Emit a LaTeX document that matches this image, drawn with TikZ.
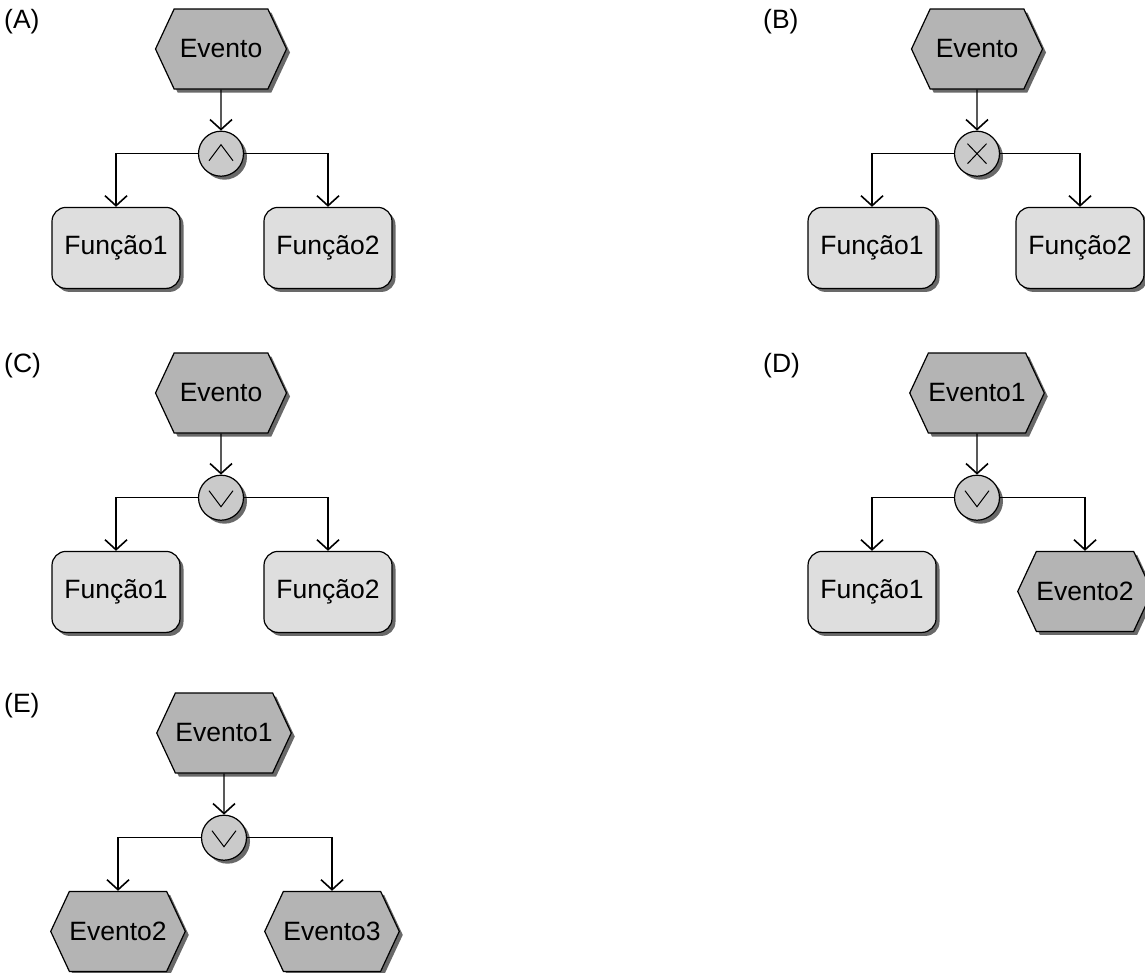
\documentclass[tikz,border=0pt]{standalone}
\usepackage{fontspec}
\setmainfont{Liberation Sans}
\usetikzlibrary{positioning}
\usetikzlibrary{shapes.symbols,shadows,arrows.meta}

\definecolor{cinzaevento}{RGB}{180,180,180}
\definecolor{cinzafuncao}{RGB}{222,222,222}
\definecolor{cinzaop}{RGB}{202,202,202}
\definecolor{cinzasombra}{RGB}{105,105,105}

\begin{document}
\begin{tikzpicture}[x=1pt,y=-1pt,
	font=\fontsize{26.5}{30}\selectfont,
	sombra/.style={drop shadow={shadow xshift=3.5pt,shadow yshift=-3.5pt,fill=cinzasombra,opacity=1}},
	evento/.style={signal,signal to=east and west,signal pointer angle=130,
			draw,line width=1.2pt,fill=cinzaevento,minimum width=131pt,minimum height=80pt,inner sep=0pt,sombra},
	funcao/.style={rectangle,rounded corners=14pt,draw,line width=1.2pt,fill=cinzafuncao,
			minimum width=128pt,minimum height=81pt,inner sep=0pt,sombra},
	conector/.style={circle,draw,line width=1.2pt,fill=cinzaop,minimum size=45pt,inner sep=0pt,sombra},
	opand/.style={conector,path picture={
				\draw[line width=1pt] ([xshift=-12pt,yshift=-7pt]path picture bounding box.center)
				-- ([yshift=9pt]path picture bounding box.center)
				-- ([xshift=12pt,yshift=-7pt]path picture bounding box.center);}},
	opor/.style={conector,path picture={
				\draw[line width=1pt] ([xshift=-12pt,yshift=7pt]path picture bounding box.center)
				-- ([yshift=-9pt]path picture bounding box.center)
				-- ([xshift=12pt,yshift=7pt]path picture bounding box.center);}},
	opxor/.style={conector,path picture={
				\draw[line width=1pt] ([xshift=-9.5pt,yshift=-10pt]path picture bounding box.center)
				-- ([xshift=9.5pt,yshift=10pt]path picture bounding box.center)
				([xshift=-9.5pt,yshift=10pt]path picture bounding box.center)
				-- ([xshift=9.5pt,yshift=-10pt]path picture bounding box.center);}},
	fluxo/.style={-{Straight Barb[length=10pt,width=22pt,line width=1.6pt]},line width=1.2pt},
	rotulo/.style={anchor=west,inner sep=0pt}
	]

	\useasboundingbox (0,0) rectangle (1145,972);

	% (A)
	\node[rotulo] (la) at (4,22) {(A)};
	\node[evento] (ea) at (221,49) {Evento};
	\node[opand,below=41pt of ea] (ca) {};
	\node[funcao,below=30pt of ca,xshift=-105pt] (fa1) {Função1};
	\node[funcao,below=30pt of ca,xshift=107pt] (fa2) {Função2};
	\draw[fluxo] (ea) -- (ca);
	\draw[fluxo] (ca) -| (fa1);
	\draw[fluxo] (ca) -| (fa2);

	% (B)
	\node[rotulo] (lb) at (763,22) {(B)};
	\node[evento] (eb) at (977,49) {Evento};
	\node[opxor,below=41pt of eb] (cb) {};
	\node[funcao,below=30pt of cb,xshift=-105pt] (fb1) {Função1};
	\node[funcao,below=30pt of cb,xshift=103pt] (fb2) {Função2};
	\draw[fluxo] (eb) -- (cb);
	\draw[fluxo] (cb) -| (fb1);
	\draw[fluxo] (cb) -| (fb2);

	% (C)
	\node[rotulo] (lc) at (4,366) {(C)};
	\node[evento] (ec) at (221,393) {Evento};
	\node[opor,below=41pt of ec] (cc) {};
	\node[funcao,below=30pt of cc,xshift=-105pt] (fc1) {Função1};
	\node[funcao,below=30pt of cc,xshift=107pt] (fc2) {Função2};
	\draw[fluxo] (ec) -- (cc);
	\draw[fluxo] (cc) -| (fc1);
	\draw[fluxo] (cc) -| (fc2);

	% (D)
	\node[rotulo] (ld) at (763,366) {(D)};
	\node[evento] (ed) at (977,393) {Evento1};
	\node[opor,below=41pt of ed] (cd) {};
	\node[funcao,below=30pt of cd,xshift=-105pt] (fd1) {Função1};
	\node[evento,below=30pt of cd,xshift=108pt] (ed2) {Evento2};
	\draw[fluxo] (ed) -- (cd);
	\draw[fluxo] (cd) -| (fd1);
	\draw[fluxo] (cd) -| (ed2);

	% (E)
	\node[rotulo] (le) at (4,706) {(E)};
	\node[evento] (ee) at (224,733) {Evento1};
	\node[opor,below=41pt of ee] (ce) {};
	\node[evento,below=30pt of ce,xshift=-106pt] (ee2) {Evento2};
	\node[evento,below=30pt of ce,xshift=108pt] (ee3) {Evento3};
	\draw[fluxo] (ee) -- (ce);
	\draw[fluxo] (ce) -| (ee2);
	\draw[fluxo] (ce) -| (ee3);

\end{tikzpicture}
\end{document}
